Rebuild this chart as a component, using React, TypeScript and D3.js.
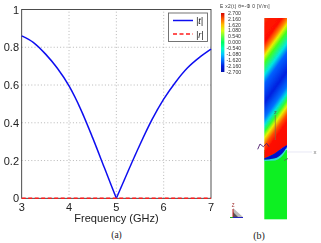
import * as d3 from 'd3';
import React from 'react';

const width = 321;
const height = 243;

// panel (a)
const freq = [3, 3.25, 3.5, 3.75, 4, 4.25, 4.5, 4.75, 5, 5.25, 5.5, 5.75, 6, 6.25, 6.5, 6.75, 7];
const transmission = [0.86, 0.825, 0.765, 0.69, 0.595, 0.47, 0.32, 0.16, 0, 0.145, 0.285, 0.415, 0.525, 0.615, 0.69, 0.745, 0.79];
const reflection = [0, 0, 0, 0, 0, 0, 0, 0, 0, 0, 0, 0, 0, 0, 0, 0, 0];
const xTicks = [3, 4, 5, 6, 7];
const yTicks = [0, 0.2, 0.4, 0.6, 0.8, 1];
const legendLabels = ['|t|', '|r|'];

// panel (b)
const barLabels = ['2.700', '2.160', '1.620', '1.080', '0.540', '0.000', '-0.540', '-1.080', '-1.620', '-2.160', '-2.700'];
const barStops = ['#d40000', '#ff5a00', '#ffc000', '#d8ff10', '#60ff40', '#00ff60', '#00ffc0', '#00c8ff', '#0070ff', '#0020e0', '#0010b0'];
const fieldT = [0, 8, 25, 33, 38, 45, 57, 66, 85, 100, 107, 114, 120, 128, 135, 190];
const fieldColors = ['#f03a00', '#ff1500', '#ff1000', '#ff8000', '#e8f000', '#40ff20', '#00e8e0', '#0060ff', '#0020e0', '#0070ff', '#00e0e0', '#30ff30', '#e8f000', '#ff5000', '#ff1000', '#f00000'];
const interfaceX = [264.3, 275, 281.7, 287];
const interfaceTop = [158.3, 153.3, 148.3, 145];
const interfaceBottom = [159.7, 158.3, 154, 147.3];
const haloBottom = [161, 160.5, 156.5, 149];
const squiggleX = [257.7, 260, 263.3, 266.7, 269];
const squiggleY = [149.3, 144, 146.7, 143.3, 146.7];

const x = d3.scaleLinear().domain([3, 7]).range([21.7, 211]);
const y = d3.scaleLinear().domain([0, 1]).range([198.3, 9.5]);
const kink = freq.indexOf(5);
const line = d3.line<number>().x((_, i) => x(freq[i])).y((d) => y(d));
const smooth = d3.line<[number, number]>().x((d) => x(d[0])).y((d) => y(d[1])).curve(d3.curveMonotoneX);
const pairs = freq.map((f, i) => [f, transmission[i]] as [number, number]);

const band = (top: number[], bottom: number[]) =>
  d3.area<number>().x((d) => d).y0((_, i) => top[i]).y1((_, i) => bottom[i]).curve(d3.curveMonotoneX)(interfaceX) ?? '';
const squiggle = d3.line<number>().x((d) => d).y((_, i) => squiggleY[i])(squiggleX) ?? '';

const sans = '"Liberation Sans", Arial, sans-serif';
const serif = '"Liberation Serif", serif';

export default function App() {
  return (
    <svg width={width} height={height} style={{ position: 'absolute', left: 0, top: 0 }} fontFamily={sans}>
      <defs>
        <filter id="soft"><feGaussianBlur stdDeviation="0.3" /></filter>
        <filter id="softer"><feGaussianBlur stdDeviation="0.4" /></filter>
        <linearGradient id="bar" x1="0" y1="0" x2="0" y2="1">
          {barStops.map((c, i) => <stop key={i} offset={i / (barStops.length - 1)} stopColor={c} />)}
        </linearGradient>
        <linearGradient id="field" gradientUnits="userSpaceOnUse" x1={264.3} y1={18} x2={404.3} y2={118}>
          {fieldT.map((t, i) => <stop key={i} offset={t / 296} stopColor={fieldColors[i]} />)}
        </linearGradient>
      </defs>
      <rect width={width} height={height} fill="#fff" />

      <g filter="url(#soft)">
        {xTicks.slice(1, -1).map((t) => (
          <line key={t} x1={x(t)} x2={x(t)} y1={y(0)} y2={y(1)} stroke="#999" strokeWidth={0.7} strokeDasharray="1 2.2" />
        ))}
        {yTicks.slice(1, -1).map((t) => (
          <line key={t} x1={x(3)} x2={x(7)} y1={y(t)} y2={y(t)} stroke="#999" strokeWidth={0.7} strokeDasharray="1 2.2" />
        ))}
        <rect x={x(3)} y={y(1)} width={x(7) - x(3)} height={y(0) - y(1)} fill="none" stroke="#222" strokeWidth={0.8} />
        <path d={smooth(pairs.slice(0, kink + 1)) ?? ''} fill="none" stroke="#1010f0" strokeWidth={1.5} />
        <path d={smooth(pairs.slice(kink)) ?? ''} fill="none" stroke="#1010f0" strokeWidth={1.5} />
        <path d={line(reflection) ?? ''} fill="none" stroke="#ff1a1a" strokeWidth={1.5} strokeDasharray="4 2.5" />
        {xTicks.map((t) => (
          <text key={t} x={x(t)} y={211} fontSize={11} textAnchor="middle" fill="#222">{t}</text>
        ))}
        {yTicks.map((t) => (
          <text key={t} x={19} y={y(t) + 4} fontSize={11} textAnchor="end" fill="#222">{t}</text>
        ))}
        <text x={116.5} y={222} fontSize={11} textAnchor="middle" fill="#222">Frequency (GHz)</text>

        <rect x={168.5} y={13} width={39} height={28.5} fill="#fff" stroke="#666" strokeWidth={0.9} />
        <line x1={173} x2={193} y1={20.5} y2={20.5} stroke="#1010f0" strokeWidth={1.5} />
        <line x1={173} x2={193} y1={34} y2={34} stroke="#ff1a1a" strokeWidth={1.5} strokeDasharray="4 2.5" />
        {legendLabels.map((l, i) => (
          <text key={l} x={196} y={24 + i * 13.5} fontSize={9} fontStyle="italic" fill="#222">{l}</text>
        ))}
      </g>
      <text x={116.5} y={238} fontSize={9.5} textAnchor="middle" fontFamily={serif} fill="#222">(a)</text>

      <g filter="url(#softer)">
        <text x={220} y={8} fontSize={4.8} fill="#333" letterSpacing={0.35}>E x2(t) θ=-Φ 0 [V/m]</text>
        <rect x={221} y={13} width={3.4} height={59} fill="url(#bar)" />
        {barLabels.map((l, i) => (
          <text key={i} x={i > 5 ? 226.5 : 228} y={14.7 + i * 5.9} fontSize={5.2} fill="#333">{l}</text>
        ))}

        <rect x={264.3} y={150} width={22.7} height={69.3} fill="#10f020" />
        <path d={`M264.3,158.5 L275,153.5 L281.7,148.5 L287,145.5 L287,18 L264.3,18 Z`} fill="url(#field)" />
        <path d={band(interfaceBottom, haloBottom)} fill="#30d8e0" />
        <path d={band(interfaceTop, interfaceBottom)} fill="#0010d0" />

        <line x1={275.3} x2={275.3} y1={115} y2={140} stroke="#807040" strokeWidth={0.7} />
        <text x={275.3} y={113.5} fontSize={5.5} textAnchor="middle" fill="#555">z</text>
        <line x1={287} x2={312} y1={152} y2={152} stroke="#d8d8ee" strokeWidth={0.6} />
        <text x={315} y={154} fontSize={6} textAnchor="middle" fill="#777">x</text>
        <path d={squiggle} fill="none" stroke="#502070" strokeWidth={0.9} />
        <line x1={284} x2={288} y1={160.5} y2={158.5} stroke="#555" strokeWidth={0.7} />

        <path d="M233,217 L233,208 L243,217 Z" fill="#bbb" />
        <path d="M233,217 L233,212 L238,217 Z" fill="#555" />
        <line x1={233} x2={233} y1={217} y2={209} stroke="#c02020" strokeWidth={1} />
        <line x1={233} x2={243} y1={217.5} y2={217.5} stroke="#2020c0" strokeWidth={1} />
        <line x1={230} x2={233} y1={217.5} y2={217.5} stroke="#20b020" strokeWidth={1} />
        <text x={233} y={207} fontSize={4.5} textAnchor="middle" fill="#a03030">Z</text>
      </g>
      <text x={259} y={239} fontSize={10} textAnchor="middle" fontFamily={serif} fill="#222">(b)</text>
    </svg>
  );
}
